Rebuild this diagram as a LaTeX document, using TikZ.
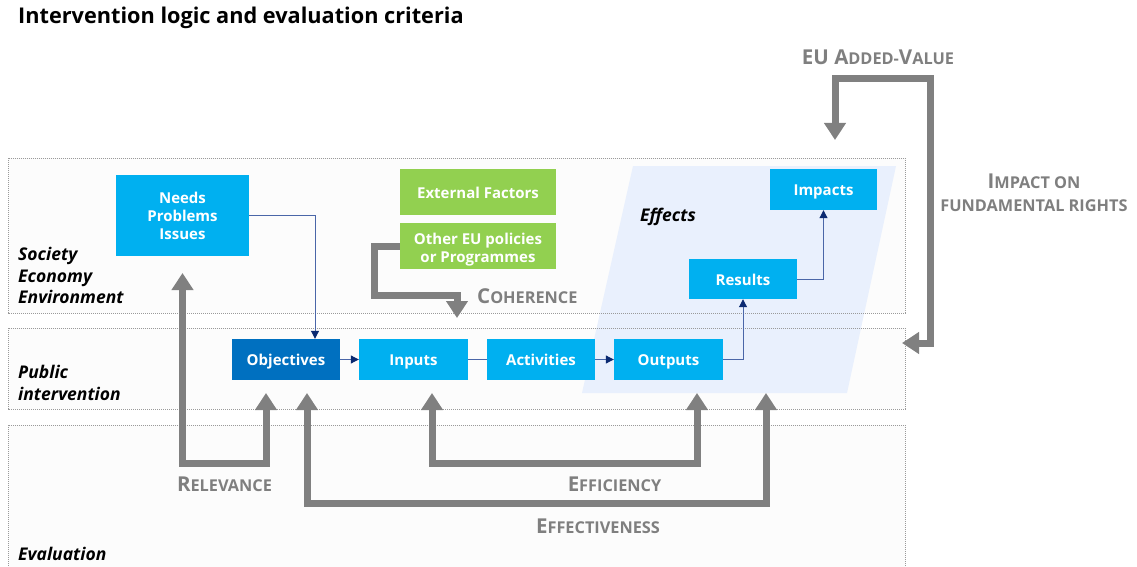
\documentclass[tikz,border=0pt]{standalone}
\usepackage{fontspec}
\setmainfont{Open Sans}
\usetikzlibrary{arrows.meta,calc}
\definecolor{boxcyan}{HTML}{00B0F0}
\definecolor{boxdark}{HTML}{0070C0}
\definecolor{boxgreen}{HTML}{92D050}
\definecolor{arrgray}{HTML}{808080}
\definecolor{labgray}{HTML}{7F7F7F}
\definecolor{effblue}{HTML}{E9F0FD}
\definecolor{panelfill}{HTML}{FCFCFC}
\definecolor{panelline}{HTML}{9A9A9A}
\definecolor{thinline}{HTML}{4A66A8}
\definecolor{thintip}{HTML}{0B2A72}
\newcommand\mysc[2]{{\fontsize{20.5}{23}\selectfont #1}{\fontsize{16.3}{23}\selectfont #2}}
\newcommand\mysm[1]{{\fontsize{16.3}{23}\selectfont #1}}
\begin{document}
\begin{tikzpicture}[x=1pt,y=-1pt,
  panel/.style={draw=panelline,line width=0.8pt,dash pattern=on 1.2pt off 0.8pt},
  bx/.style={inner sep=0pt,text=white,font=\bfseries\fontsize{15}{18}\selectfont,align=center},
  one/.style={text height=12pt,text depth=0pt},
  cyanbox/.style={bx,fill=boxcyan},
  darkbox/.style={bx,fill=boxdark},
  greenbox/.style={bx,fill=boxgreen},
  thinln/.style={draw=thinline,line width=1pt},
  thinarr/.style={thinln,-{Triangle[width=8pt,length=8pt,color=thintip]}},
  garrow/.style={draw=arrgray,line width=7pt,line join=miter},
  glab/.style={text=labgray,font=\bfseries\fontsize{16.3}{23}\selectfont,inner sep=0pt},
  plab/.style={font=\bfseries\itshape\fontsize{17.5}{21.5}\selectfont,align=left,inner sep=0pt,anchor=west}
]
\useasboundingbox (0,0) rectangle (1137,567);
% title
\node[anchor=west,inner sep=0pt,font=\bfseries\fontsize{21.7}{26}\selectfont] (title) at (18,18) {Intervention logic and evaluation criteria};
% panels fill
\fill[panelfill] (8,158) rectangle (905,313);
\fill[panelfill] (8,328) rectangle (905,409);
\fill[panelfill] (8,425) rectangle (905,575);
% effects parallelogram
\fill[effblue] (633,166) -- (896,166) -- (847,393) -- (582,393) -- cycle;
% panel borders
\draw[panel] (8,158) rectangle (905,313);
\draw[panel] (8,328) rectangle (905,409);
\draw[panel] (8,425) rectangle (905,575);
% panel labels
\node[plab] (lsoc) at (18,275.5) {Society\\Economy\\Environment};
\node[plab] (lpub) at (18,383) {Public\\intervention};
\node[plab] (leva) at (18,554) {Evaluation};
\node[plab] (leff) at (640,217) {Effects};
% boxes
\node[cyanbox,minimum width=133pt,minimum height=81pt] (needs) at (182.5,215.5) {Needs\\Problems\\Issues};
\node[greenbox,one,minimum width=156pt,minimum height=46pt] (ext) at (478,192) {External Factors};
\node[inner sep=0pt,text=white,font=\bfseries\fontsize{15}{18}\selectfont,fill=boxgreen,text height=28.75pt,text depth=14.25pt,minimum width=156pt,minimum height=46pt] (other) at (478,246) {\begin{tabular}{@{}c@{}}Other EU policies\\or Programmes\end{tabular}};
\node[cyanbox,one,minimum width=107pt,minimum height=41pt] (impacts) at (823.5,189.5) {Impacts};
\node[cyanbox,one,minimum width=108pt,minimum height=40pt] (results) at (743,279) {Results};
\node[darkbox,one,minimum width=108pt,minimum height=41pt] (obj) at (286,359.5) {Objectives};
\node[cyanbox,one,minimum width=109pt,minimum height=41pt] (inputs) at (413.5,359.5) {Inputs};
\node[cyanbox,one,minimum width=108pt,minimum height=41pt] (act) at (541,359.5) {Activities};
\node[cyanbox,one,minimum width=109pt,minimum height=41pt] (outputs) at (668.5,359.5) {Outputs};
% thin connectors
\draw[thinarr] (needs.east) -| ([xshift=29pt]obj.north);
\draw[thinarr] (obj) -- (inputs);
\draw[thinln] (inputs) -- (act);
\draw[thinarr] (act) -- (outputs);
\draw[thinarr] (outputs.east) -| (results.south);
\draw[thinarr] (results.east) -| (impacts.south);
% gray arrow endpoints
\coordinate (r1) at (182.5,273);
\coordinate (r2) at (266,393);
\coordinate (e1) at (307,393);
\coordinate (e2) at (766,393);
\coordinate (f1) at (432,393);
\coordinate (f2) at (697,393);
\coordinate (c2) at (457,318);
\coordinate (a1) at (835,140);
\coordinate (a2) at (902,343);
% gray arrows
\draw[garrow,{Triangle[width=21pt,length=17pt]}-{Triangle[width=21pt,length=17pt]}] (r1) -- (182.5,463) -- (266,463) -- (r2);
\draw[garrow,{Triangle[width=21pt,length=17pt]}-{Triangle[width=21pt,length=17pt]}] (e1) -- (307,503) -- (766,503) -- (e2);
\draw[garrow,{Triangle[width=21pt,length=17pt]}-{Triangle[width=21pt,length=17pt]}] (f1) -- (432,463) -- (697,463) -- (f2);
\draw[garrow,-{Triangle[width=21pt,length=17pt]}] ([yshift=0pt]other.west) -- (374,246) -- (374,295) -- (457,295) -- (c2);
\draw[garrow,{Triangle[width=21pt,length=17pt]}-{Triangle[width=21pt,length=17pt]}] (a1) -- (835,79) -- (930,79) -- (930,343) -- (a2);
% gray labels
\node[glab,anchor=west] (lcoh) at (477,296) {\mysc{C}{OHERENCE}};
\node[glab] (lrel) at (224.5,484) {\mysc{R}{ELEVANCE}};
\node[glab] (lefi) at (614.5,484) {\mysc{E}{FFICIENCY}};
\node[glab] (lefe) at (598,526) {\mysc{E}{FFECTIVENESS}};
\node[glab] (leu) at (878,57) {\mysc{EU A}{DDED-}\mysc{V}{ALUE}};
\node[glab,align=center] (limp) at (1034,193) {\mysc{I}{MPACT ON}\\\mysm{FUNDAMENTAL RIGHTS}};
\end{tikzpicture}
\end{document}
